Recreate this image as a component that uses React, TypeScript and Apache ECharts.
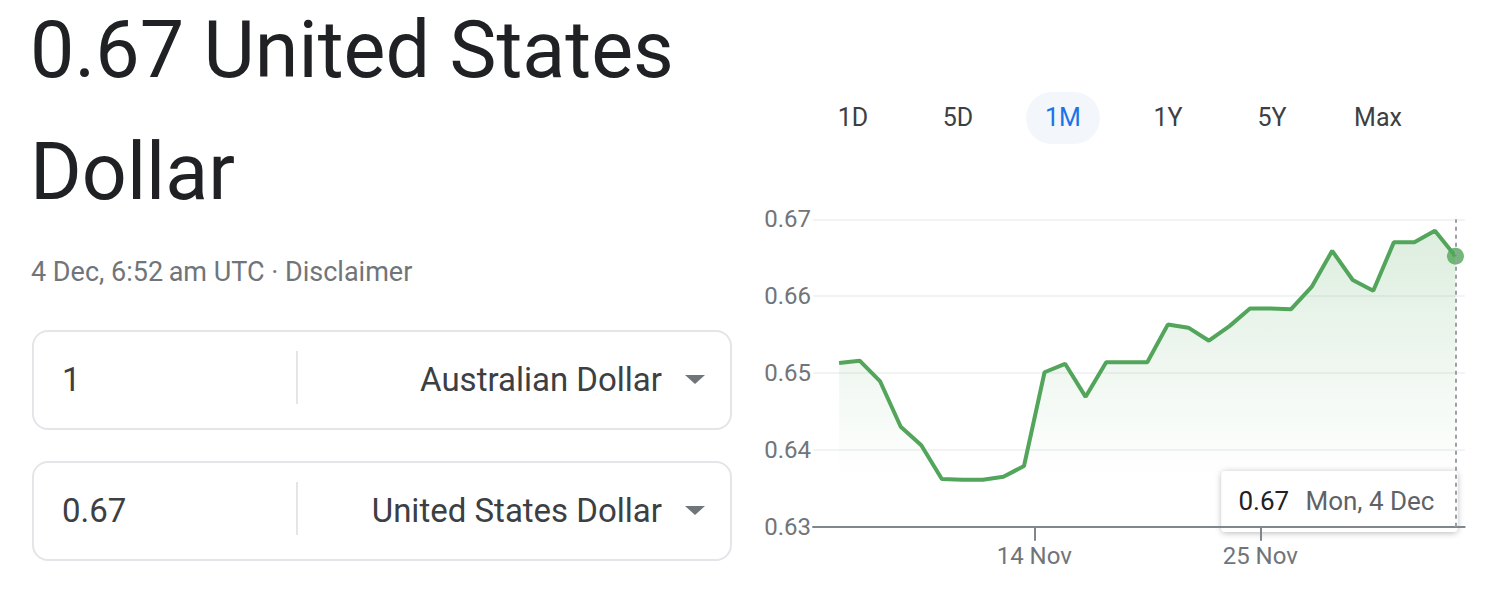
import React, { useEffect, useRef } from "react";
import * as echarts from "echarts";

const dates = [
  "4 Nov", "5 Nov", "6 Nov", "7 Nov", "8 Nov", "9 Nov", "10 Nov", "11 Nov", "12 Nov", "13 Nov",
  "14 Nov", "15 Nov", "16 Nov", "17 Nov", "18 Nov", "19 Nov", "20 Nov", "21 Nov", "22 Nov", "23 Nov",
  "24 Nov", "25 Nov", "26 Nov", "27 Nov", "28 Nov", "29 Nov", "30 Nov", "1 Dec", "2 Dec", "3 Dec", "4 Dec",
];
const rates = [
  0.6513, 0.6516, 0.6489, 0.643, 0.6406, 0.6362, 0.6361, 0.6361, 0.6365, 0.6379,
  0.6501, 0.6512, 0.6469, 0.6514, 0.6514, 0.6514, 0.6563, 0.6559, 0.6542, 0.6561,
  0.6584, 0.6584, 0.6583, 0.6612, 0.6659, 0.6621, 0.6607, 0.667, 0.667, 0.6685, 0.6652,
];
const xTickLabels = ["14 Nov", "25 Nov"];
const yTicks = [0.63, 0.64, 0.65, 0.66, 0.67];
const ranges = ["1D", "5D", "1M", "1Y", "5Y", "Max"];
const activeRange = "1M";
const tooltipDay = "Mon, 4 Dec";

const GREEN = "#52a55a";
const FONT = "Roboto, Arial, sans-serif";

function Chart() {
  const ref = useRef<HTMLDivElement>(null);
  useEffect(() => {
    if (!ref.current) return;
    const chart = echarts.init(ref.current, undefined, { renderer: "svg" });
    const tickPos = xTickLabels.map((l) => dates.indexOf(l) - 0.5);
    const data = rates.map((v, i) => [i, v]);
    const last = data[data.length - 1];
    chart.setOption({
      animation: false,
      textStyle: { fontFamily: FONT },
      grid: { left: 73, top: 39.3, width: 651.7, height: 307.4 },
      xAxis: {
        type: "value",
        min: -1.27,
        max: 30.45,
        splitLine: { show: false },
        axisLine: { show: true, lineStyle: { color: "#80868b", width: 2 } },
        axisTick: { show: true, customValues: tickPos, length: 14, lineStyle: { color: "#80868b", width: 2 } },
        axisLabel: {
          customValues: tickPos,
          margin: 17,
          fontSize: 24,
          color: "#70757a",
          formatter: (v: number) => {
            const k = tickPos.findIndex((p) => Math.abs(p - v) < 0.01);
            return k >= 0 ? xTickLabels[k] : "";
          },
        },
      },
      yAxis: {
        type: "value",
        min: yTicks[0],
        max: yTicks[yTicks.length - 1],
        interval: 0.01,
        axisLine: { show: false },
        axisTick: { show: false },
        splitLine: { lineStyle: { color: "#f1f3f4", width: 2 } },
        axisLabel: {
          margin: 2,
          fontSize: 24,
          color: "#70757a",
          formatter: (v: number) => v.toFixed(2),
        },
      },
      series: [
        {
          type: "line",
          data,
          showSymbol: false,
          lineStyle: { color: GREEN, width: 4 },
          itemStyle: { color: GREEN },
          areaStyle: {
            color: new echarts.graphic.LinearGradient(0, 0, 0, 1, [
              { offset: 0, color: "rgba(82,165,90,0.28)" },
              { offset: 0.84, color: "rgba(82,165,90,0.0)" },
              { offset: 1, color: "rgba(82,165,90,0)" },
            ]),
          },
          markLine: {
            silent: true,
            symbol: ["none", "none"],
            label: { show: false },
            lineStyle: { color: "#9aa0a6", type: [4, 4], width: 2 },
            data: [{ xAxis: last[0] }],
          },
          z: 2,
        },
        {
          type: "scatter",
          data: [last],
          symbol: "circle",
          symbolSize: 17,
          itemStyle: { color: GREEN },
          z: 3,
        },
      ],
    });
    const px = chart.convertToPixel({ seriesIndex: 0 }, last) as number[];
    const boxW = 236;
    const boxRight = px[0] + 2;
    chart.setOption({
      graphic: [
        {
          type: "group",
          x: boxRight - boxW,
          y: 291,
          z: 100,
          children: [
            {
              type: "rect",
              shape: { x: 0, y: 0, width: boxW, height: 61, r: 4 },
              style: { fill: "#ffffff", shadowColor: "rgba(0,0,0,0.28)", shadowBlur: 6, shadowOffsetY: 1 },
            },
            {
              type: "text",
              x: 17,
              y: 30,
              style: {
                text: last[1].toFixed(2),
                fill: "#202124",
                fontSize: 26,
                fontFamily: FONT,
                verticalAlign: "middle",
              },
            },
            {
              type: "text",
              x: 84,
              y: 30,
              style: {
                text: tooltipDay,
                fill: "#5f6368",
                fontSize: 26,
                fontFamily: FONT,
                verticalAlign: "middle",
              },
            },
          ],
        },
      ],
    });
    return () => chart.dispose();
  }, []);
  return <div ref={ref} style={{ position: "absolute", left: 740, top: 180, width: 762, height: 412 }} />;
}

function Converter({ top, amount, currency }: { top: number; amount: string; currency: string }) {
  return (
    <div
      style={{
        position: "absolute",
        left: 32,
        top,
        width: 696,
        height: 96,
        border: "2px solid #e3e5e8",
        borderRadius: 16,
        boxSizing: "content-box",
      }}
    >
      <div
        style={{
          position: "absolute",
          left: 28,
          top: 0,
          height: 96,
          lineHeight: "96px",
          fontSize: 33,
          color: "#3c4043",
        }}
      >
        {amount}
      </div>
      <div style={{ position: "absolute", left: 262, top: 19, width: 2, height: 53, background: "#e3e5e8" }} />
      <div
        style={{
          position: "absolute",
          right: 68,
          top: 0,
          height: 96,
          lineHeight: "96px",
          fontSize: 33,
          color: "#3c4043",
          whiteSpace: "nowrap",
        }}
      >
        {currency}
      </div>
      <div
        style={{
          position: "absolute",
          left: 651,
          top: 43,
          width: 0,
          height: 0,
          borderLeft: "10px solid transparent",
          borderRight: "10px solid transparent",
          borderTop: "9px solid #70757a",
        }}
      />
    </div>
  );
}

export default function App() {
  useEffect(() => {
    document.body.style.margin = "0";
  }, []);
  const rangeX = [853, 958, 1063, 1168, 1272, 1378];
  return (
    <div
      style={{
        position: "absolute",
        left: 0,
        top: 0,
        width: 1502,
        height: 592,
        background: "#fff",
        fontFamily: FONT,
        overflow: "hidden",
      }}
    >
      <div
        style={{
          position: "absolute",
          left: 30,
          top: -11,
          width: 700,
          fontSize: 79,
          lineHeight: "122px",
          color: "#202124",
        }}
      >
        0.67 United States Dollar
      </div>
      <div
        style={{
          position: "absolute",
          left: 31,
          top: 256,
          fontSize: 27,
          lineHeight: "32px",
          color: "#70757a",
          whiteSpace: "nowrap",
        }}
      >
        4 Dec, 6:52{"\u2009"}am UTC · Disclaimer
      </div>
      <Converter top={330} amount="1" currency="Australian Dollar" />
      <Converter top={461} amount="0.67" currency="United States Dollar" />
      {ranges.map((r, i) => {
        const active = r === activeRange;
        return (
          <div
            key={r}
            style={{
              position: "absolute",
              left: rangeX[i] - 37,
              top: 92,
              width: 74,
              height: 52,
              borderRadius: 26,
              background: active ? "#f3f6fb" : "transparent",
              color: active ? "#1a73e8" : "#3c4043",
              fontSize: 25,
              lineHeight: "52px",
              textAlign: "center",
            }}
          >
            {r}
          </div>
        );
      })}
      <Chart />
    </div>
  );
}
